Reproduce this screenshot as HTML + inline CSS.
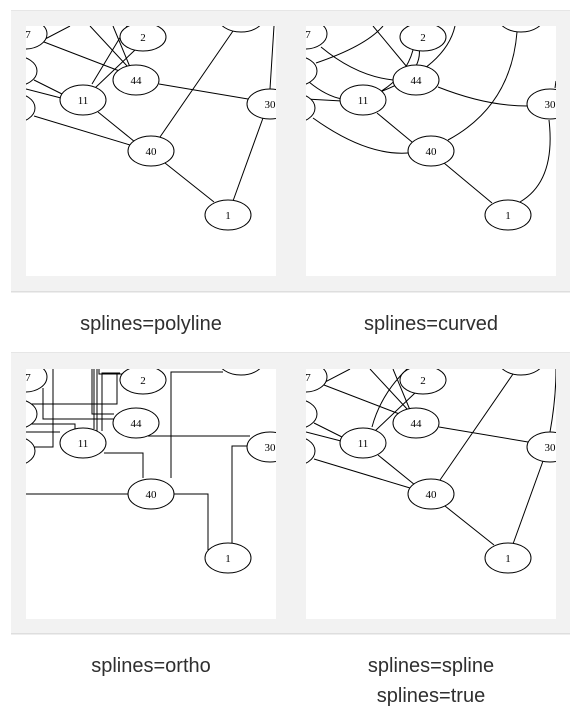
<!DOCTYPE html>
<html><head><meta charset="utf-8"><style>
html,body{margin:0;padding:0;background:#fff;width:578px;height:719px;overflow:hidden}
svg{display:block}
.cap{font-family:"Liberation Sans",sans-serif;font-size:20px;fill:#2f2f2f;text-anchor:middle}
.n{font-family:"Liberation Serif",serif;font-size:11px;text-anchor:middle;fill:#000}
</style></head><body>
<svg width="578" height="719" viewBox="0 0 578 719" xmlns="http://www.w3.org/2000/svg">
<defs>
<clipPath id="c"><rect x="0" y="0" width="250" height="250"/></clipPath>
<g id="nodes" fill="#fff" stroke="#000" stroke-width="1">
<ellipse cx="-1" cy="8" rx="22" ry="15"/>
<ellipse cx="117" cy="11" rx="23" ry="14"/>
<ellipse cx="110" cy="54" rx="23" ry="15"/>
<ellipse cx="-11" cy="45" rx="22" ry="15"/>
<ellipse cx="57" cy="74" rx="23" ry="15"/>
<ellipse cx="-13" cy="82" rx="22" ry="15"/>
<ellipse cx="125" cy="125" rx="23" ry="15"/>
<ellipse cx="244" cy="78" rx="23" ry="15"/>
<ellipse cx="202" cy="189" rx="23" ry="15"/>
<ellipse cx="215" cy="-9" rx="23" ry="15"/>
</g>
<g id="labels">
<text class="n" x="2" y="12">7</text>
<text class="n" x="117" y="15">2</text>
<text class="n" x="110" y="58">44</text>
<text class="n" x="57" y="78">11</text>
<text class="n" x="125" y="129">40</text>
<text class="n" x="244" y="82">30</text>
<text class="n" x="202" y="193">1</text>
</g>
</defs>
<rect x="11" y="10" width="559" height="282" fill="#f2f2f2"/>
<rect x="11" y="10" width="559" height="1" fill="#e6e6e6"/>
<rect x="11" y="291" width="559" height="1.5" fill="#dedede"/>
<rect x="11" y="352" width="559" height="282" fill="#f2f2f2"/>
<rect x="11" y="352" width="559" height="1" fill="#e6e6e6"/>
<rect x="11" y="633" width="559" height="1.5" fill="#dedede"/>

<g transform="translate(26,26)">
<rect width="250" height="250" fill="#fff"/>
<g clip-path="url(#c)">
<g stroke="#000" fill="none" stroke-width="1">
<path d="M18,16L96,46M0,23L44,0M64,0L102,41M87,0L104,41M101,0L66,58M109,24L69,62M8,54L36,68M0,63L35,72M133,58L222,73M8,90L104,119M72,86L109,116M134,111L207,5M244,63L248,0M139,137L188,176M237,92L207,175"/>
</g>
<use href="#nodes"/><use href="#labels"/>
</g></g>

<g transform="translate(306,26)">
<rect width="250" height="250" fill="#fff"/>
<g clip-path="url(#c)">
<g stroke="#000" fill="none" stroke-width="1">
<path d="M15,21Q50,50 87,54M10,37Q60,20 77,0M67,0L101,41M101,0Q120,20 110,40M107,24Q100,50 74,66M149,0Q140,40 74,66M3,56Q20,70 36,73M0,73L36,75M132,61Q180,80 221,80M7,92Q60,130 102,127M71,87L106,116M142,114Q205,80 211,6M243,94Q250,155 214,176M138,137L186,177M249,62L250,55"/>
</g>
<use href="#nodes"/><use href="#labels"/>
</g></g>

<g transform="translate(26,369)">
<rect width="250" height="250" fill="#fff"/>
<g clip-path="url(#c)">
<g stroke="#000" fill="none" stroke-width="1">
<path d="M27,0V78H8M17,19V50H90M0,35H91V5H96M0,55H49V60M0,63H34M66,0V45H88M68,0V60M71,0V62M73,0V5H91V34M76,62V4H94M78,84H117V109M0,125H102M145,109V3H197M122,67H224M223,77H206V174M148,125H182V181"/>
</g>
<use href="#nodes"/><use href="#labels"/>
</g></g>

<g transform="translate(306,369)">
<rect width="250" height="250" fill="#fff"/>
<g clip-path="url(#c)">
<g stroke="#000" fill="none" stroke-width="1">
<path d="M18,16L96,46M0,23L44,0M64,0L102,41M87,0L104,41M101,0Q75,25 66,58M109,24L69,62M8,54L36,68M0,63L35,72M133,58L222,73M8,90L104,119M72,86L109,116M134,111L207,5M244,63Q250,30 250,0M139,137L188,176M237,92L207,175"/>
</g>
<use href="#nodes"/><use href="#labels"/>
</g></g>

<text class="cap" x="151" y="330">splines=polyline</text>
<text class="cap" x="431" y="330">splines=curved</text>
<text class="cap" x="151" y="672">splines=ortho</text>
<text class="cap" x="431" y="672">splines=spline</text>
<text class="cap" x="431" y="702">splines=true</text>
</svg>
</body></html>
